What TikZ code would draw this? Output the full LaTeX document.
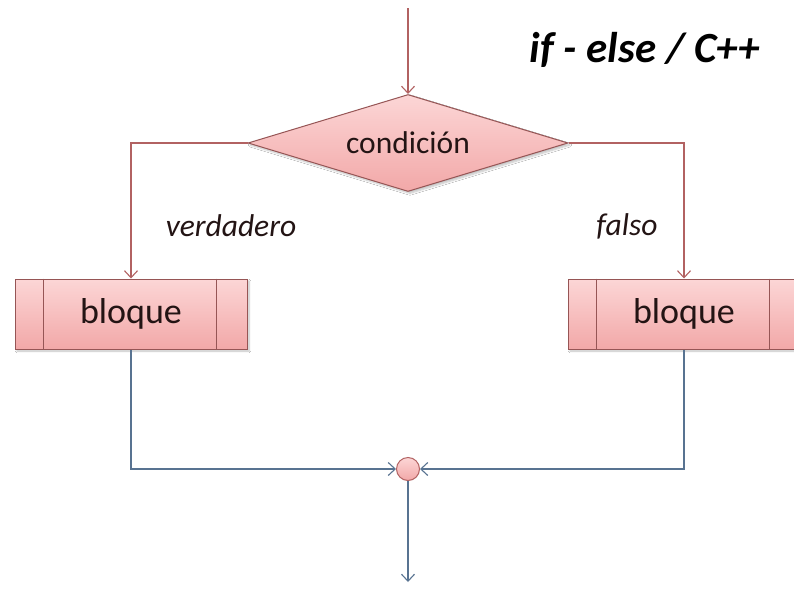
\documentclass[tikz,border=0pt]{standalone}
\usepackage{fontspec}
\setmainfont{Carlito}
\usetikzlibrary{arrows.meta,shapes.geometric,shadows.blur}
\definecolor{boxtop}{RGB}{252,214,214}
\definecolor{boxbot}{RGB}{242,168,168}
\definecolor{boxline}{RGB}{150,85,85}
\definecolor{redline}{RGB}{178,98,98}
\definecolor{blueline}{RGB}{88,115,145}
\definecolor{textcol}{RGB}{35,20,20}
\tikzset{
  barb/.style={-{Straight Barb[length=7pt,width=13pt,line width=1.1pt]}},
  redconn/.style={draw=redline,line width=1.1pt,barb},
  blueconn/.style={draw=blueline,line width=1.1pt,barb},
  decision/.style={shape=diamond,draw=boxline,line width=1pt,top color=boxtop,bottom color=boxbot,
    minimum width=320pt,minimum height=97pt,aspect=3.3,inner sep=0pt,text=textcol,
    font=\fontsize{31.5}{36}\selectfont,blur shadow={shadow blur steps=6,shadow xshift=2pt,shadow yshift=-2pt,shadow opacity=25}},
  blockbox/.style={shape=rectangle,draw=boxline,line width=1pt,top color=boxtop,bottom color=boxbot,
    minimum width=232pt,minimum height=70pt,inner sep=0pt,text=textcol,
    font=\fontsize{36}{40}\selectfont,blur shadow={shadow blur steps=6,shadow xshift=2pt,shadow yshift=-2pt,shadow opacity=25}},
  joint/.style={shape=circle,draw=redline,line width=1pt,top color=boxtop,bottom color=boxbot,minimum size=23pt,inner sep=0pt},
  branchlabel/.style={font=\fontsize{31.5}{36}\selectfont\itshape,text=textcol},
  title/.style={font=\fontsize{43}{48}\selectfont\bfseries\itshape,text=black}
}
\begin{document}
\begin{tikzpicture}[x=1pt,y=-1pt]
\useasboundingbox (0,0) rectangle (794,589);
\clip (0,0) rectangle (794,589);
\fill[white] (0,0) rectangle (794,589);

\node[title] (ttl) at (645,50) {if - else / C++};

\coordinate (start) at (408,8);
\node[decision] (cond) at (408,143) {condición};

\node[blockbox] (lb) at (131,314) {bloque};
\node[blockbox] (rb) at (684,314) {bloque};
\foreach \b in {lb,rb}{
  \draw[boxline,line width=1pt] ([xshift=29pt]\b.north west) -- ([xshift=29pt]\b.south west);
  \draw[boxline,line width=1pt] ([xshift=-31pt]\b.north east) -- ([xshift=-31pt]\b.south east);
}

\node[branchlabel] (vl) at (231,226) {verdadero};
\node[branchlabel] (fl) at (627,226) {falso};

\node[joint] (j) at (408,469) {};
\coordinate (end) at (408,582);

\draw[redconn] (start) -- (cond.north);
\draw[redconn] (cond.west) -| (lb.north);
\draw[redconn] (cond.east) -| (rb.north);
\draw[blueconn] (lb.south) |- (j.west);
\draw[blueconn] (rb.south) |- (j.east);
\draw[blueconn] (j.south) -- (end);
\end{tikzpicture}
\end{document}
